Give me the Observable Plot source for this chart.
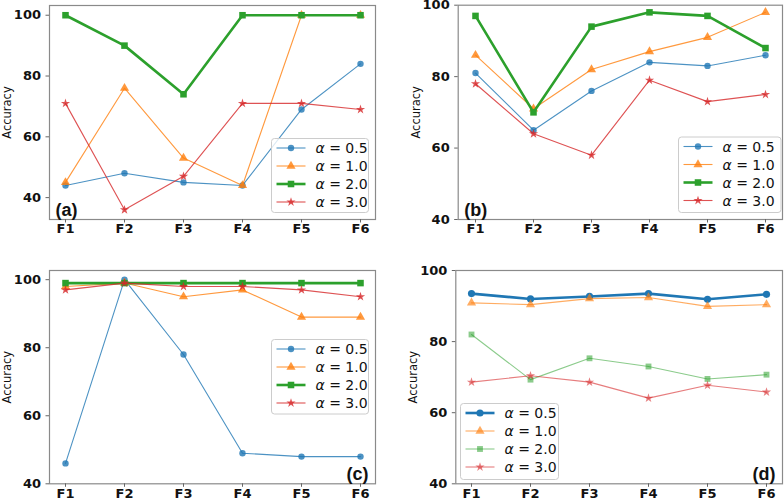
<!DOCTYPE html>
<html>
<head>
<meta charset="utf-8">
<script src="https://cdn.jsdelivr.net/npm/d3@7"></script>
<script src="https://cdn.jsdelivr.net/npm/@observablehq/plot@0.6"></script>
<style>
  html, body { margin: 0; padding: 0; background: #fff; }
  #fig { position: relative; width: 784px; height: 500px; overflow: hidden; }
  #fig > svg, #fig > .panel { position: absolute; }
  #fig g[aria-label="x-axis tick label"],
  #fig g[aria-label="y-axis tick label"] {
    font-family: "DejaVu Sans" !important;
    font-size: 13px !important;
    font-weight: bold !important;
  }
</style>
</head>
<body>
<div id="fig"></div>
<script>
// Feature sets along the x axis
const features = ["F1", "F2", "F3", "F4", "F5", "F6"];
const yTicks = [40, 60, 80, 100];
const seriesLabels = ["0.5", "1.0", "2.0", "3.0"];

// Panel (a) accuracy per alpha
const accA_05 = [44, 48, 45, 44, 69, 84];
const accA_10 = [45, 76, 53, 44, 100, 100];
const accA_20 = [100, 90, 74, 100, 100, 100];
const accA_30 = [71, 36, 47, 71, 71, 69];

// Panel (b)
const accB_05 = [81, 65, 76, 84, 83, 86];
const accB_10 = [86, 71, 82, 87, 91, 98];
const accB_20 = [97, 70, 94, 98, 97, 88];
const accB_30 = [78, 64, 58, 79, 73, 75];

// Panel (c)
const accC_05 = [46, 100, 78, 49, 48, 48];
const accC_10 = [98, 99, 95, 97, 89, 89];
const accC_20 = [99, 99, 99, 99, 99, 99];
const accC_30 = [97, 99, 98, 98, 97, 95];

// Panel (d)
const accD_05 = [93.5, 92.0, 92.7, 93.5, 91.9, 93.3];
const accD_10 = [90.9, 90.4, 92.1, 92.4, 89.9, 90.4];
const accD_20 = [82.0, 69.3, 75.3, 73.0, 69.5, 70.7];
const accD_30 = [68.6, 70.4, 68.6, 64.1, 67.7, 65.8];

const colors = ["#1f77b4", "#ff7f0e", "#2ca02c", "#d62728"];
const symbols = ["circle", "triangle", "square", "star"];
const d3Symbols = {circle: d3.symbolCircle, triangle: d3.symbolTriangle, square: d3.symbolSquare, star: d3.symbolStar};
const markerR = [3.2, 3.4, 3.3, 2.9];

const thinHeavy = {widths: [1.1, 1.1, 2.6, 1.1], opac: [0.8, 0.8, 1, 0.8]};
const panels = [
  {tag: "(a)", series: [accA_05, accA_10, accA_20, accA_30], ...thinHeavy,
   left: 0, top: 0, m: [5, 17, 31, 49], y: [32.8, 103.2], tagCorner: "bottom-left",
   legend: {x: 271.5, y: 138.5, w: 97, h: 74}},
  {tag: "(b)", series: [accB_05, accB_10, accB_20, accB_30], ...thinHeavy,
   left: 392, top: 0, m: [4.7, 2, 31, 65.7], y: [40, 100], tagCorner: "bottom-left",
   legend: {x: 678.5, y: 137, w: 102.5, h: 75.5}},
  {tag: "(c)", series: [accC_05, accC_10, accC_20, accC_30], ...thinHeavy,
   left: 0, top: 250, m: [20, 17, 16.7, 49], y: [40, 102.7], tagCorner: "bottom-right",
   legend: {x: 271.5, y: 339.5, w: 97, h: 74.5}},
  {tag: "(d)", series: [accD_05, accD_10, accD_20, accD_30],
   widths: [2.6, 1.1, 1.1, 1.1], opac: [1, 0.65, 0.55, 0.6],
   left: 392, top: 250, m: [20, 2, 16.7, 63.3], y: [40, 100], tagCorner: "bottom-right",
   legend: {x: 460.5, y: 403.5, w: 98, h: 76}}
];

const fig = document.getElementById("fig");
const markerSize = (p, i) => markerR[i] * (p.widths[i] > 2 ? 1.12 : 1);

for (const p of panels) {
  const [mt, mr, mb, ml] = p.m;
  const marks = [Plot.frame({stroke: "#8a8a8a", strokeWidth: 1.2})];
  p.series.forEach((vals, i) => {
    const rows = features.map((f, k) => ({f, v: vals[k]}));
    marks.push(
      Plot.line(rows, {x: "f", y: "v", stroke: colors[i], strokeWidth: p.widths[i], strokeOpacity: p.opac[i]}),
      Plot.dot(rows, {x: "f", y: "v", symbol: symbols[i], r: markerSize(p, i),
                      fill: colors[i], fillOpacity: p.opac[i], stroke: "none"})
    );
  });
  marks.push(
    Plot.axisX({tickSize: 3.5, tickPadding: 1, stroke: "#666", label: null}),
    Plot.axisY({ticks: yTicks, tickSize: 3.5, tickPadding: 5, stroke: "#666", label: null}),
    Plot.text(["Accuracy"], {frameAnchor: "left", rotate: -90, dx: -42, fontWeight: "normal",
                             fontSize: 11.5, textAnchor: "middle", lineAnchor: "middle"}),
    Plot.text([p.tag], {frameAnchor: p.tagCorner, textAnchor: p.tagCorner === "bottom-left" ? "start" : "end",
                        lineAnchor: "bottom", dx: p.tagCorner === "bottom-left" ? 6 : -7, dy: -4,
                        fontSize: 18, fontWeight: "bold", fontFamily: "Liberation Sans"})
  );
  const chart = Plot.plot({
    width: 392, height: 250,
    marginTop: mt, marginRight: mr, marginBottom: mb, marginLeft: ml,
    x: {type: "point", domain: features, padding: 0.25},
    y: {domain: p.y},
    style: {fontFamily: "DejaVu Sans", fontSize: "11px", color: "#111", background: "transparent", overflow: "visible"},
    marks
  });
  const holder = document.createElement("div");
  holder.className = "panel";
  holder.style.left = p.left + "px";
  holder.style.top = p.top + "px";
  holder.appendChild(chart);
  fig.appendChild(holder);
}

// Legends, one box per panel
const overlay = d3.select(fig).append("svg")
  .attr("width", 784).attr("height", 500)
  .style("left", 0).style("top", 0);

for (const p of panels) {
  const L = p.legend;
  const g = overlay.append("g").attr("transform", `translate(${L.x},${L.y})`);
  g.append("rect").attr("width", L.w).attr("height", L.h).attr("rx", 3)
    .attr("fill", "#fff").attr("fill-opacity", 0.8).attr("stroke", "#cccccc").attr("stroke-width", 1);
  seriesLabels.forEach((lab, i) => {
    const cy = 9.5 + i * 18;
    const row = g.append("g").attr("transform", `translate(5,${cy})`);
    row.append("line").attr("x1", 0).attr("x2", 29).attr("y1", 0).attr("y2", 0)
      .attr("stroke", colors[i]).attr("stroke-width", p.widths[i]).attr("stroke-opacity", p.opac[i]);
    row.append("path")
      .attr("d", d3.symbol(d3Symbols[symbols[i]], Math.PI * markerSize(p, i) ** 2)())
      .attr("transform", "translate(14.5,0)")
      .attr("fill", colors[i]).attr("fill-opacity", p.opac[i]);
    const t = row.append("text").attr("x", 39).attr("y", 0).attr("dy", "0.36em")
      .attr("font-family", "DejaVu Sans").attr("font-size", 14).attr("fill", "#111");
    t.append("tspan").attr("font-style", "italic").text("α");
    t.append("tspan").text(" = " + lab);
  });
}
</script>
</body>
</html>
